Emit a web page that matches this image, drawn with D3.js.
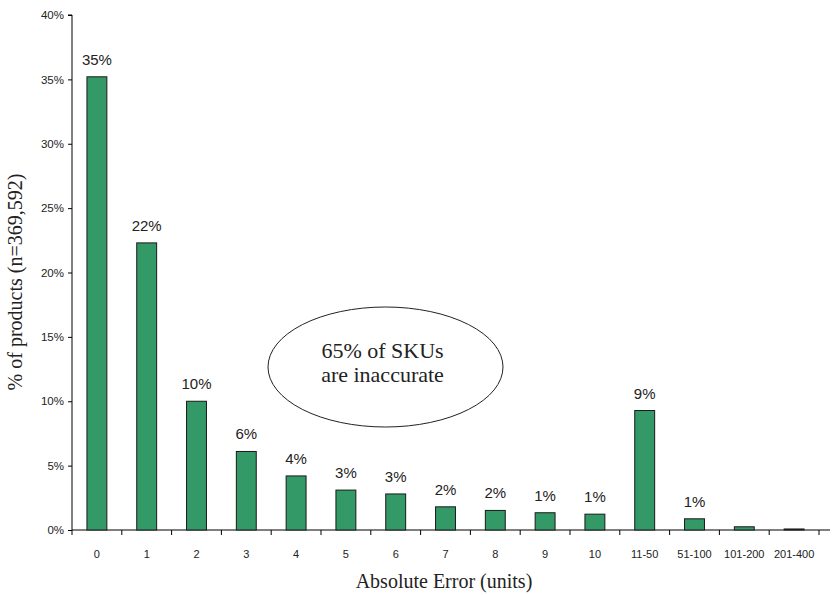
<!DOCTYPE html>
<html>
<head>
<meta charset="utf-8">
<script src="https://cdn.jsdelivr.net/npm/d3@7"></script>
<style>
  html, body { margin: 0; padding: 0; background: #fff; }
  svg { display: block; }
</style>
</head>
<body>
<svg id="chart" width="832" height="595"></svg>
<script>
// Absolute error buckets and share of products in each
const categories = ["0", "1", "2", "3", "4", "5", "6", "7", "8", "9", "10", "11-50", "51-100", "101-200", "201-400"];
const shares = [0.352, 0.223, 0.100, 0.061, 0.042, 0.031, 0.028, 0.018, 0.0152, 0.0134, 0.0123, 0.0928, 0.0087, 0.0025, 0.0008];
const showLabel = [true, true, true, true, true, true, true, true, true, true, true, true, true, false, false];
const yTicks = [0, 0.05, 0.10, 0.15, 0.20, 0.25, 0.30, 0.35, 0.40];
const yTitle = "% of products (n=369,592)";
const xTitle = "Absolute Error (units)";
const calloutLines = ["65% of SKUs", "are inaccurate"];

const svg = d3.select("#chart");
const plotLeft = 72, plotRight = 819, plotTop = 15, plotBottom = 530;

const x = d3.scaleBand().domain(categories).range([plotLeft, plotRight]).padding(0);
const y = d3.scaleLinear().domain([0, 0.40]).range([plotBottom, plotTop]);
const pct = d3.format(".0%");
const sans = "Arial, 'Liberation Sans', Helvetica, sans-serif";
const serif = "'Times New Roman', 'Liberation Serif', Times, serif";

// Y axis
const yAxis = svg.append("g")
  .attr("transform", `translate(${plotLeft},0)`)
  .call(d3.axisLeft(y).tickValues(yTicks).tickFormat(pct).tickSize(4).tickPadding(4));
yAxis.select(".domain").attr("stroke", "#000").attr("d", `M-4,${plotTop}H0V${plotBottom}`);
yAxis.selectAll(".tick line").attr("stroke", "#000");
yAxis.selectAll(".tick text").attr("font-family", sans).attr("font-size", 11.5).attr("fill", "#222");

// X axis: ticks at bucket boundaries, labels at bucket centres
const xAxisG = svg.append("g").attr("transform", `translate(0,${plotBottom})`);
xAxisG.append("line").attr("x1", plotLeft).attr("x2", 830).attr("y1", 0).attr("y2", 0)
  .attr("stroke", "#000");
xAxisG.selectAll("line.tk")
  .data(categories.map((c, i) => i).concat([categories.length]))
  .join("line").attr("class", "tk")
  .attr("x1", i => plotLeft + i * x.bandwidth())
  .attr("x2", i => plotLeft + i * x.bandwidth())
  .attr("y1", 0).attr("y2", 5).attr("stroke", "#000");
xAxisG.selectAll("text.xl")
  .data(categories).join("text").attr("class", "xl")
  .attr("x", c => x(c) + x.bandwidth() / 2)
  .attr("y", 28)
  .attr("text-anchor", "middle")
  .attr("font-family", sans).attr("font-size", 11).attr("fill", "#222")
  .text(c => c);

// Bars
const barFrac = 0.4;
svg.append("g").selectAll("rect")
  .data(categories.map((c, i) => ({ c, v: shares[i] })))
  .join("rect")
  .attr("x", d => x(d.c) + x.bandwidth() * (1 - barFrac) / 2)
  .attr("width", x.bandwidth() * barFrac)
  .attr("y", d => y(d.v))
  .attr("height", d => y(0) - y(d.v))
  .attr("fill", "#339966")
  .attr("stroke", "#1a1a1a")
  .attr("stroke-width", 1);

// Value labels
svg.append("g").selectAll("text")
  .data(categories.map((c, i) => ({ c, v: shares[i], show: showLabel[i] })).filter(d => d.show))
  .join("text")
  .attr("x", d => x(d.c) + x.bandwidth() / 2)
  .attr("y", d => y(d.v) - 12)
  .attr("text-anchor", "middle")
  .attr("font-family", sans).attr("font-size", 15).attr("fill", "#222")
  .text(d => pct(d.v));

// Axis titles
svg.append("text")
  .attr("transform", "translate(22,282) rotate(-90)")
  .attr("text-anchor", "middle")
  .attr("font-family", serif).attr("font-size", 20).attr("fill", "#222")
  .text(yTitle);
svg.append("text")
  .attr("x", 444).attr("y", 588)
  .attr("text-anchor", "middle")
  .attr("font-family", serif).attr("font-size", 20).attr("fill", "#222")
  .text(xTitle);

// Callout ellipse
const callout = svg.append("g").attr("transform", "translate(385.5,367)");
callout.append("ellipse").attr("rx", 117.5).attr("ry", 60)
  .attr("fill", "none").attr("stroke", "#222").attr("stroke-width", 1);
callout.selectAll("text").data(calloutLines).join("text")
  .attr("x", -3).attr("y", (d, i) => -9 + i * 24)
  .attr("text-anchor", "middle")
  .attr("font-family", serif).attr("font-size", 22).attr("fill", "#222")
  .text(d => d);
</script>
</body>
</html>
